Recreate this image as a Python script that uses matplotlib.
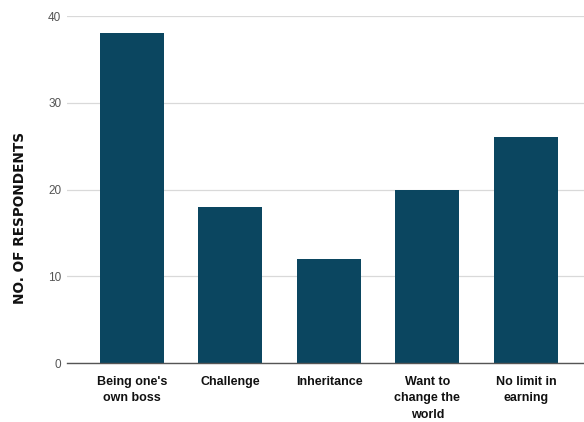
import matplotlib
matplotlib.use('Agg')
import matplotlib.pyplot as plt

# survey counts per motivation
categories = ["Being one's\nown boss", "Challenge", "Inheritance",
              "Want to\nchange the\nworld", "No limit in\nearning"]
respondents = [38, 18, 12, 20, 26]
y_ticks = [0, 10, 20, 30, 40]

plt.rcParams['font.family'] = ['Liberation Sans Narrow', 'Liberation Sans', 'DejaVu Sans']

fig = plt.figure(figsize=(5.84, 4.22), dpi=100)
ax = fig.add_axes([0.1147, 0.1398, 0.8853, 0.8222])

x = range(len(categories))
ax.bar(x, respondents, width=0.65, color='#0b4660', zorder=3)

ax.set_xlim(-0.66, 4.59)
ax.set_ylim(0, 40)
ax.set_yticks(y_ticks)
ax.set_yticklabels([str(t) for t in y_ticks], color='#555555', fontsize=8.5)
ax.set_xticks(list(x))
ax.set_xticklabels(categories, fontsize=9, fontweight='bold', color='#111111',
                   linespacing=1.55, va='top')
ax.tick_params(axis='x', length=0, pad=9)
ax.tick_params(axis='y', length=0, pad=4)

ax.grid(axis='y', color='#d9d9d9', linewidth=0.9, zorder=0)
for s in ['top', 'right', 'left']:
    ax.spines[s].set_visible(False)
ax.spines['bottom'].set_color('#555555')
ax.spines['bottom'].set_linewidth(1.0)
ax.spines['bottom'].set_zorder(4)

fig.text(0.034, 0.484, 'NO. OF RESPONDENTS', rotation=90, fontsize=9.8,
         fontweight='bold', family='DejaVu Sans', ha='center', va='center',
         color='#111111')

plt.savefig('out.png', dpi=100)
